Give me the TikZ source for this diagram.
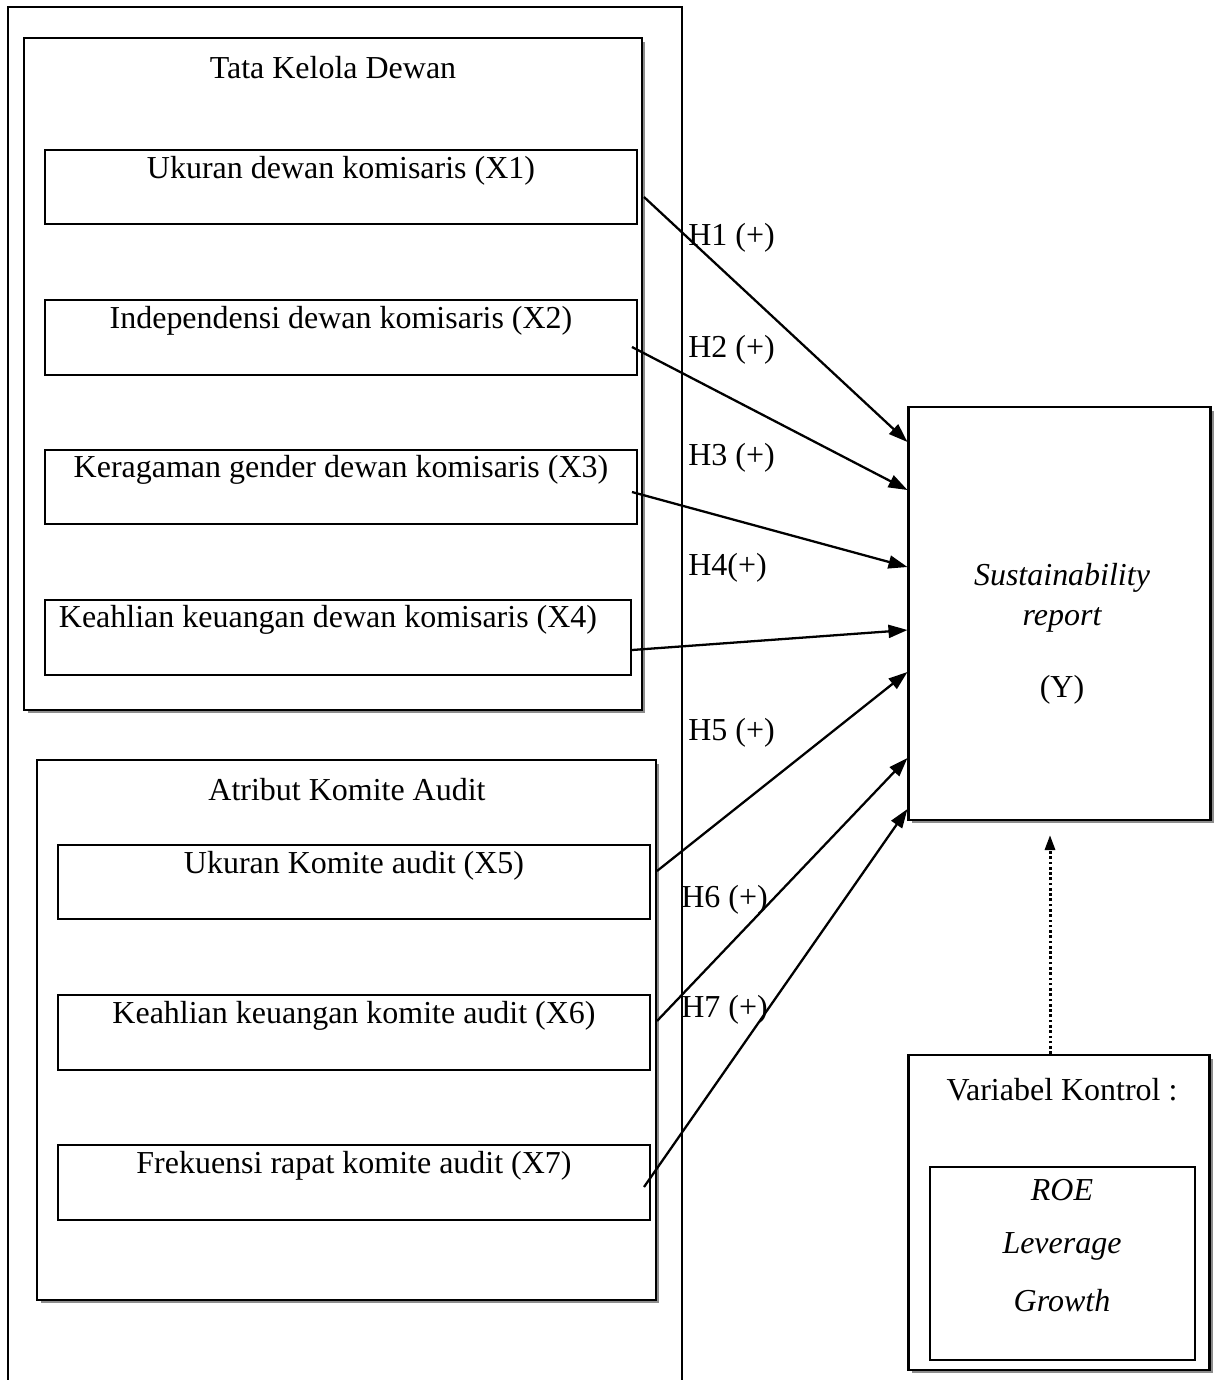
\documentclass[tikz,border=0pt]{standalone}
\usepackage{fontspec}
\setmainfont{Liberation Serif}
\usetikzlibrary{arrows.meta,calc,shadows}
\begin{document}
\begin{tikzpicture}[x=0.02cm,y=-0.02cm,
  box/.style={draw,line width=1.2pt,rectangle,inner sep=0pt,fill=white},
  shbox/.style={box,drop shadow={shadow xshift=0.07cm,shadow yshift=-0.07cm,fill=black!45,opacity=1}},
  txt/.style={font=\fontsize{18.2}{22}\selectfont,inner sep=0pt},
  itxt/.style={txt,font=\fontsize{18.2}{22}\selectfont\itshape},
  hlab/.style={txt,anchor=west},
  arr/.style={line width=1.3pt,-{Triangle[length=0.38cm,width=0.26cm]}},
  frame/.style={line width=1pt}]
\useasboundingbox (0,0) rectangle (1214,1380);
% outer open frame
\draw[frame] (8,1382) -- (8,7) -- (682,7) -- (682,1382);
% group boxes
\node[shbox,minimum width=12.36cm,minimum height=13.44cm] (tk) at (333,374) {};
\node[txt] (tkl) at (333,68) {Tata Kelola Dewan};
\node[shbox,minimum width=12.38cm,minimum height=10.8cm] (ak) at (346.5,1030) {};
\node[txt] (akl) at (347,790) {Atribut Komite Audit};
% X boxes
\node[box,minimum width=11.84cm,minimum height=1.48cm] (x1) at (341,187) {};
\node[txt] (x1l) at ($(x1.north)+(0,22)$) {Ukuran dewan komisaris (X1)};
\node[box,minimum width=11.84cm,minimum height=1.5cm] (x2) at (341,337.5) {};
\node[txt] (x2l) at ($(x2.north)+(0,22)$) {Independensi dewan komisaris (X2)};
\node[box,minimum width=11.84cm,minimum height=1.48cm] (x3) at (341,487) {};
\node[txt] (x3l) at ($(x3.north)+(0,21)$) {Keragaman gender dewan komisaris (X3)};
\node[box,minimum width=11.72cm,minimum height=1.5cm] (x4) at (338,637.5) {};
\node[txt] (x4l) at ($(x4.north)+(-10,21)$) {Keahlian keuangan dewan komisaris (X4)};
\node[box,minimum width=11.84cm,minimum height=1.48cm] (x5) at (354,882) {};
\node[txt] (x5l) at ($(x5.north)+(0,22)$) {Ukuran Komite audit (X5)};
\node[box,minimum width=11.84cm,minimum height=1.5cm] (x6) at (354,1032.5) {};
\node[txt] (x6l) at ($(x6.north)+(0,22)$) {Keahlian keuangan komite audit (X6)};
\node[box,minimum width=11.84cm,minimum height=1.5cm] (x7) at (354,1182.5) {};
\node[txt] (x7l) at ($(x7.north)+(0,22)$) {Frekuensi rapat komite audit (X7)};
% Y box
\node[shbox,minimum width=6.04cm,minimum height=8.26cm] (y) at (1059.5,613.5) {};
\node[itxt] (y1) at (1062,578) {Sustainability};
\node[itxt] (y2) at (1062,620) {report};
\node[txt] (y3) at (1062,690) {(Y)};
% control box
\node[shbox,minimum width=6.02cm,minimum height=6.3cm] (vk) at (1059,1212.5) {};
\node[txt] (vkl) at (1062,1090) {Variabel Kontrol :};
\node[box,minimum width=5.3cm,minimum height=3.86cm] (ctl) at (1062.5,1263.5) {};
\node[itxt] (c1) at (1062,1190) {ROE};
\node[itxt] (c2) at (1062,1246) {Leverage};
\node[itxt] (c3) at (1062,1301) {Growth};
% arrows
\draw[arr] ($(x1.east)+(6,10)$) -- ($(y.west)+(0,-171.5)$);
\draw[arr] ($(x2.east)+(-6,9.5)$) -- ($(y.west)+(0,-123.5)$);
\draw[arr] ($(x3.east)+(-6,5)$) -- ($(y.west)+(0,-46.5)$);
\draw[arr] ($(x4.east)+(0,12.5)$) -- ($(y.west)+(0,16.5)$);
\draw[arr] ($(x5.east)+(6,-11)$) -- ($(y.west)+(0,58.5)$);
\draw[arr] ($(x6.east)+(6,-11.5)$) -- ($(y.west)+(0,144.5)$);
\draw[arr] ($(x7.east)+(-7,4.5)$) -- ($(y.west)+(0,195.5)$);
\draw[line width=1.7pt,dash pattern=on 1.5pt off 1.5pt,-{Triangle[length=0.3cm,width=0.2cm]}] ($(vk.north)+(-9,0)$) -- ($(y.south)+(-9.5,14)$);
% labels
\node[hlab] (h1) at (688,238) {H1 (+)};
\node[hlab] (h2) at (688,350) {H2 (+)};
\node[hlab] (h3) at (688,458) {H3 (+)};
\node[hlab] (h4) at (688,568) {H4(+)};
\node[hlab] (h5) at (688,733) {H5 (+)};
\node[hlab] (h6) at (681,900) {H6 (+)};
\node[hlab] (h7) at (681,1010) {H7 (+)};
\end{tikzpicture}
\end{document}
